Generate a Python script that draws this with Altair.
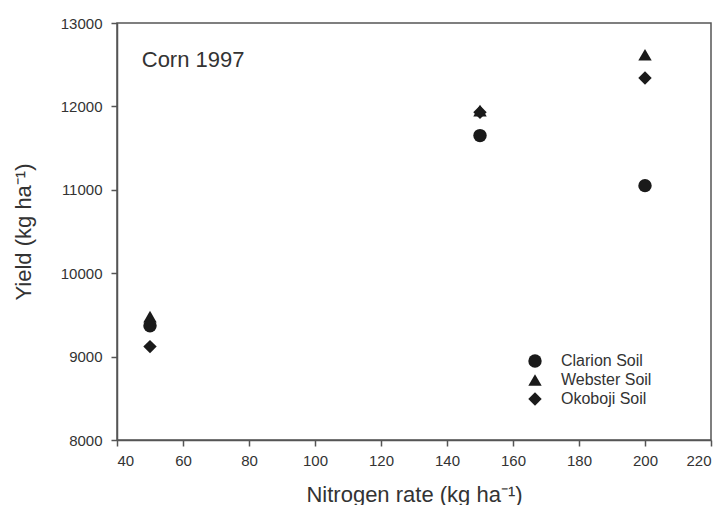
import altair as alt
import pandas as pd

soils = ["Clarion Soil", "Webster Soil", "Okoboji Soil"]
nitrogen = [50, 150, 200]
clarion = [9370, 11650, 11050]
webster = [9480, 11950, 12620]
okoboji = [9120, 11930, 12340]

rows = []
for s, vals in zip(soils, [clarion, webster, okoboji]):
    for n, v in zip(nitrogen, vals):
        rows.append({"soil": s, "n": n, "yield": v})
df = pd.DataFrame(rows)

label_df = pd.DataFrame({"n": [47.5], "yield": [12560], "txt": ["Corn 1997"]})

FONT = "Liberation Sans"

xscale = alt.Scale(domain=[40, 220], nice=False, zero=False)
yscale = alt.Scale(domain=[8000, 13000], nice=False, zero=False)

points = alt.Chart(df).mark_point(filled=True, opacity=1, size=180, color="#1a1a1a").encode(
    x=alt.X("n:Q", scale=xscale,
            axis=alt.Axis(title="Nitrogen rate (kg ha⁻¹)", values=list(range(40, 221, 20)),
                          format="d", grid=False, titlePadding=16, labelPadding=7)),
    y=alt.Y("yield:Q", scale=yscale,
            axis=alt.Axis(title="Yield (kg ha⁻¹)", values=list(range(8000, 13001, 1000)),
                          format="d", grid=False, titlePadding=25, labelPadding=9)),
    shape=alt.Shape("soil:N", sort=soils,
                    scale=alt.Scale(domain=soils, range=["circle", "triangle-up", "diamond"]),
                    legend=alt.Legend(title=None, orient="none", legendX=410, legendY=330,
                                      symbolSize=180, symbolFillColor="#1a1a1a",
                                      symbolStrokeColor="#1a1a1a",
                                      labelFontSize=16, labelFont=FONT, labelColor="#333",
                                      labelOffset=18, rowPadding=0)),
)

label = alt.Chart(label_df).mark_text(align="left", baseline="middle", fontSize=22,
                                      font=FONT, color="#333").encode(
    x=alt.X("n:Q", scale=xscale), y=alt.Y("yield:Q", scale=yscale), text="txt:N")

chart = (points + label).properties(
    width=594, height=417,
    background="white",
    autosize=alt.AutoSizeParams(type="none"),
    padding={"left": 109, "top": 15, "right": 6, "bottom": 65},
).configure_view(stroke="#555", strokeWidth=1.5).configure_axis(
    domainColor="#555", domainWidth=1.5, tickColor="#555", tickWidth=1.5, tickSize=6,
    labelFont=FONT, labelFontSize=15, labelColor="#333",
    titleFont=FONT, titleFontSize=22, titleFontWeight="normal", titleColor="#333",
)

chart.save("out.html", embed_options={"renderer": "svg", "actions": False})
